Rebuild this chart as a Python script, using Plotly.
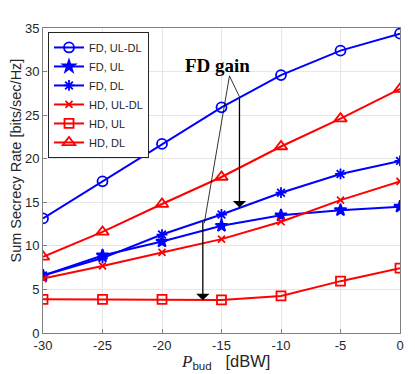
import plotly.graph_objects as go

P_bud = [-30, -25, -20, -15, -10, -5, 0]
fd_ul_dl = [13.15, 17.4, 21.7, 25.9, 29.6, 32.4, 34.35]
fd_ul = [6.6, 8.9, 10.5, 12.3, 13.5, 14.1, 14.5]
fd_dl = [6.6, 8.6, 11.3, 13.6, 16.1, 18.25, 19.75]
hd_ul_dl = [6.25, 7.7, 9.24, 10.77, 12.77, 15.25, 17.4]
hd_ul = [3.87, 3.85, 3.87, 3.8, 4.25, 5.95, 7.44]
hd_dl = [8.74, 11.6, 14.8, 17.9, 21.4, 24.6, 28.0]

x_ticks = [-30, -25, -20, -15, -10, -5, 0]
y_ticks = [0, 5, 10, 15, 20, 25, 30, 35]

BLUE = "#0000FF"
RED = "#FF0000"

series = [
    ("FD, UL-DL", fd_ul_dl, BLUE, "circle-open", 10),
    ("FD, UL", fd_ul, BLUE, "star", 9),
    ("FD, DL", fd_dl, BLUE, "asterisk-open", 9),
    ("HD, UL-DL", hd_ul_dl, RED, "x-thin-open", 7),
    ("HD, UL", hd_ul, RED, "square-open", 9),
    ("HD, DL", hd_dl, RED, "triangle-up-open", 11),
]

fig = go.Figure()
for name, ys, col, sym, sz in series:
    fig.add_trace(go.Scatter(
        x=P_bud, y=ys, name=name, mode="lines+markers",
        line=dict(color=col, width=2),
        marker=dict(symbol=sym, size=sz, color=col,
                    line=dict(color=col, width=1.8)),
    ))

# thin lines of the "FD gain" annotation
fig.add_shape(type="line", x0=-14.33, y0=29.5, x1=-16.45, y1=12.6,
              line=dict(color="black", width=0.8))
fig.add_shape(type="line", x0=-14.33, y0=29.5, x1=-13.49, y1=27.1,
              line=dict(color="black", width=0.8))

fig.add_annotation(x=-16.57, y=3.75, ax=-16.57, ay=12.9, axref="x", ayref="y",
                   xref="x", yref="y", text="", showarrow=True,
                   arrowhead=1, arrowsize=1.7, arrowwidth=1.3, arrowcolor="black")
fig.add_annotation(x=-13.49, y=14.4, ax=-13.49, ay=27.1, axref="x", ayref="y",
                   xref="x", yref="y", text="", showarrow=True,
                   arrowhead=1, arrowsize=1.7, arrowwidth=1.3, arrowcolor="black")
fig.add_annotation(x=-15.36, y=30.7, xref="x", yref="y", text="<b>FD gain</b>",
                   showarrow=False,
                   font=dict(family="Liberation Serif", size=19, color="black"))

# axis titles
fig.add_annotation(
    x=0.511, y=0, xref="paper", yref="paper", xanchor="center", yanchor="middle",
    yshift=-28.5, showarrow=False,
    text="<span style='font-family:Liberation Serif;font-size:17px'><i>P</i></span>"
         "<sub>bud</sub>&nbsp;&nbsp;&nbsp;[dBW]",
    font=dict(family="Liberation Sans, Arial", size=16.5, color="#262626"))
fig.add_annotation(
    x=0, y=0.5656, xref="paper", yref="paper", xanchor="center", yanchor="middle",
    xshift=-27, showarrow=False, textangle=-90,
    text="Sum Secrecy Rate [bits/sec/Hz]",
    font=dict(family="Liberation Sans, Arial", size=14.5, color="#262626"))

fig.update_layout(
    width=407, height=366,
    margin=dict(l=35, r=15, t=20, b=41),
    paper_bgcolor="white", plot_bgcolor="white",
    font=dict(family="Liberation Sans, Arial", size=13, color="#262626"),
    showlegend=True,
    legend=dict(x=0.014, y=0.987, xanchor="left", yanchor="top",
                bgcolor="white", bordercolor="#262626", borderwidth=1,
                font=dict(size=11, color="#262626"),
                tracegroupgap=0, itemwidth=30),
    xaxis=dict(range=[-30, 0], tickvals=x_ticks, ticktext=[str(v) for v in x_ticks],
               showgrid=True, gridcolor="#E6E6E6", gridwidth=1, automargin=False,
               showline=True, linecolor="#808080", linewidth=1, mirror=True,
               ticks="inside", ticklen=4, tickcolor="#808080", zeroline=False),
    yaxis=dict(range=[0, 35], tickvals=y_ticks, ticktext=[str(v) for v in y_ticks],
               showgrid=True, gridcolor="#E6E6E6", gridwidth=1, automargin=False,
               showline=True, linecolor="#808080", linewidth=1, mirror=True,
               ticks="inside", ticklen=4, tickcolor="#808080", zeroline=False),
)

fig.write_html("out.html")
